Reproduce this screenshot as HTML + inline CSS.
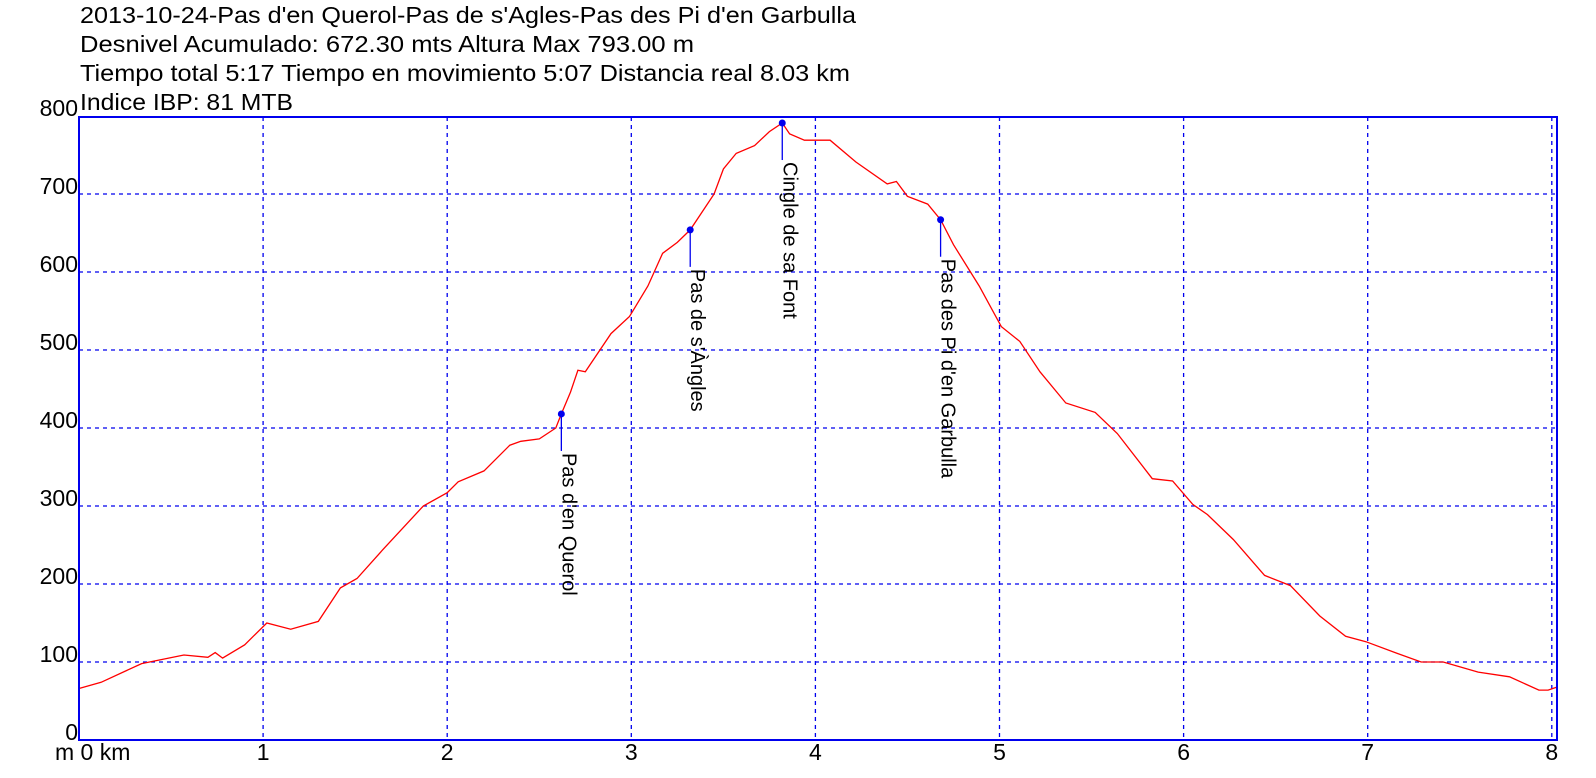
<!DOCTYPE html>
<html><head><meta charset="utf-8"><style>
html,body{margin:0;padding:0;background:#fff;}
svg{display:block;font-family:"Liberation Sans",sans-serif;}
</style></head><body>
<svg id="s" width="1596" height="778" viewBox="0 0 1596 778" xmlns="http://www.w3.org/2000/svg">
<rect width="1596" height="778" fill="#fff"/>
<g font-size="23" fill="#000">
<text x="80" y="23" textLength="776" lengthAdjust="spacingAndGlyphs">2013-10-24-Pas d'en Querol-Pas de s'Agles-Pas des Pi d'en Garbulla</text>
<text x="80" y="52" textLength="614" lengthAdjust="spacingAndGlyphs">Desnivel Acumulado: 672.30 mts  Altura Max 793.00 m</text>
<text x="80" y="81" textLength="770" lengthAdjust="spacingAndGlyphs">Tiempo total 5:17 Tiempo en movimiento 5:07 Distancia real 8.03 km</text>
<text x="80" y="110" textLength="213" lengthAdjust="spacingAndGlyphs">Indice IBP: 81 MTB</text>
</g>
<g id="grid" stroke="#0000ee" stroke-width="1.3" stroke-dasharray="4,4" fill="none"></g>
<g id="lab" font-size="23" fill="#000"></g>
<path id="prof" fill="none" stroke="#ff0000" stroke-width="1.3"/>
<rect x="79" y="117" width="1478" height="623" fill="none" stroke="#0000ee" stroke-width="2"/>
<g id="mk"></g>
</svg>
<script>
var NS="http://www.w3.org/2000/svg";
function X(k){return 79+k*184.1;}function Y(v){return 740-v*0.78;}
function el(t,a,p,txt){var e=document.createElementNS(NS,t);for(var k in a)e.setAttribute(k,a[k]);if(txt!=null)e.textContent=txt;document.getElementById(p).appendChild(e);return e;}
for(var v=100;v<=700;v+=100)el('line',{x1:79,x2:1557,y1:Y(v),y2:Y(v)},'grid');
for(var k=1;k<=8;k++)el('line',{x1:X(k),x2:X(k),y1:117,y2:740},'grid');
for(var v=0;v<=800;v+=100)el('text',{x:78,y:Y(v),'text-anchor':'end'},'lab',String(v));
el('text',{x:55,y:760},'lab','m 0 km');
for(var k=1;k<=8;k++)el('text',{x:X(k),y:760,'text-anchor':'middle'},'lab',String(k));
var d=[[0,66],[0.12,74],[0.34,98],[0.57,109],[0.70,106],[0.74,112],[0.78,105],[0.9,122],[1.02,150],[1.15,142],[1.3,152],[1.42,195],[1.51,207],[1.65,244],[1.87,300],[2.0,317],[2.06,331],[2.2,345],[2.34,378],[2.4,383],[2.5,386],[2.59,400],[2.62,418],[2.67,446],[2.71,474],[2.75,472],[2.89,521],[2.99,543],[3.09,582],[3.17,624],[3.25,638],[3.32,654],[3.45,700],[3.5,732],[3.57,752],[3.67,762],[3.75,780],[3.82,791],[3.86,777],[3.94,769],[4.08,769],[4.22,741],[4.39,713],[4.44,716],[4.5,697],[4.61,687],[4.68,667],[4.75,635],[4.89,582],[5.01,530],[5.11,511],[5.22,472],[5.36,432],[5.52,420],[5.64,393],[5.83,335],[5.94,332],[6.05,302],[6.13,289],[6.27,257],[6.44,211],[6.58,198],[6.74,159],[6.88,133],[6.99,126],[7.16,111],[7.29,100],[7.41,100],[7.6,87],[7.77,81],[7.93,64],[7.98,64],[8.03,68]];
var p='';d.forEach(function(q,i){p+=(i?'L':'M')+X(q[0]).toFixed(1)+','+Y(q[1]).toFixed(1);});
document.getElementById('prof').setAttribute('d',p);
var m=[[2.62,418,"Pas d'en Querol"],[3.32,654,"Pas de s'Àngles"],[3.82,791,"Cingle de sa Font"],[4.68,667,"Pas des Pi d'en Garbulla"]];
m.forEach(function(q){var x=X(q[0]),y=Y(q[1]);
el('line',{x1:x,x2:x,y1:y,y2:y+37,stroke:'#0000ee','stroke-width':1.3},'mk');
el('circle',{cx:x,cy:y,r:3.5,fill:'#0000ee'},'mk');
el('text',{x:0,y:0,'font-size':20,transform:'translate('+(x+1)+','+(y+39)+') rotate(90)'},'mk',q[2]);});
</script>
</body></html>
